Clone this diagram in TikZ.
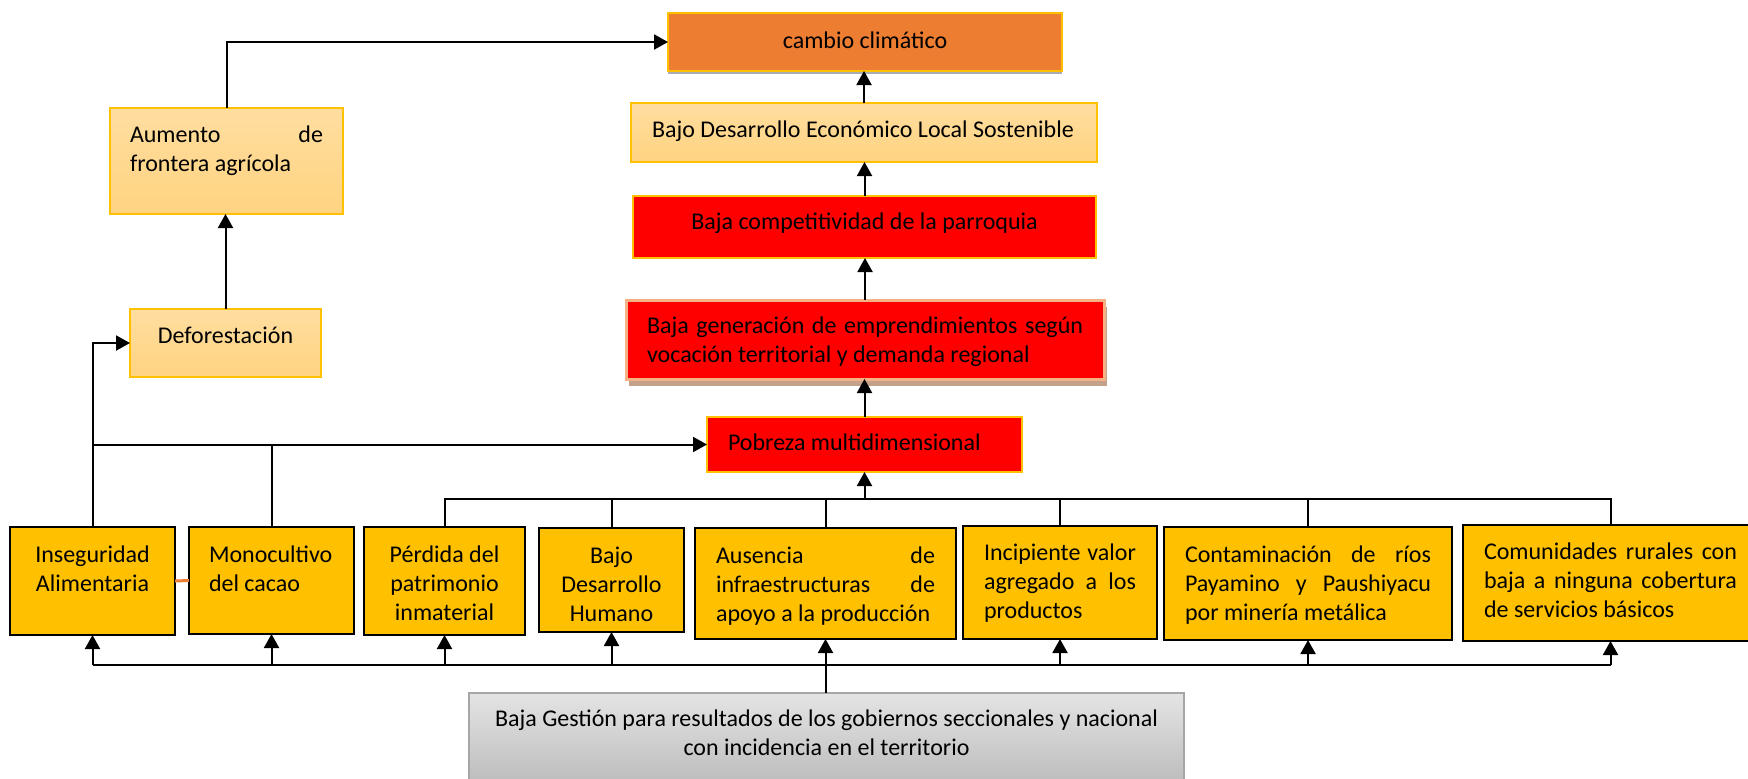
\documentclass[tikz,border=0pt]{standalone}
\usepackage{fontspec}
\setmainfont{Carlito}
\usetikzlibrary{arrows.meta,shadows,calc}
\definecolor{cOrange}{HTML}{ED7D31}
\definecolor{cGold}{HTML}{FFC000}
\definecolor{cLtTop}{HTML}{FFDEA0}
\definecolor{cLtBot}{HTML}{FFD380}
\definecolor{cRed}{HTML}{FF0000}
\definecolor{cSalmon}{HTML}{F4B183}
\definecolor{cBrown}{HTML}{C4A18B}
\definecolor{cShadow}{HTML}{A9ABB5}
\definecolor{cGrayTop}{HTML}{E4E4E4}
\definecolor{cGrayBot}{HTML}{BEBEBE}
\definecolor{cGrayLine}{HTML}{A6A6A6}
\begin{document}
\begin{tikzpicture}[x=0.5pt,y=-0.5pt,
  geo/.style n args={4}{text width=#1, inner xsep=#2, text height=#3, text depth=#4, inner ysep=0pt, anchor=north west, outer sep=0pt},
  base/.style={font=\fontsize{12pt}{14.5pt}\selectfont, rectangle},
  ybox/.style={base, fill=cGold, draw=black, line width=1.2pt},
  lbox/.style={base, top color=cLtTop, bottom color=cLtBot, draw=cGold, line width=0.8pt},
  rbox/.style={base, fill=cRed, draw=cGold, line width=0.8pt},
  conn/.style={line width=1pt, draw=black},
  arr/.style={conn, -{Triangle[width=7.5pt,length=7pt]}},
]
\useasboundingbox (0,0) rectangle (1748,778);

% top column
\node[base, fill=cOrange, draw=cGold, line width=0.8pt,
      drop shadow={shadow xshift=0pt, shadow yshift=-1.5pt, fill=cShadow, opacity=1},
      geo={197pt}{0pt}{17.5pt}{11.5pt}, align=flush center] (cc) at (668,13) {cambio~climático};
\node[lbox, geo={212pt}{10.5pt}{17pt}{12.5pt}, align=flush left] (bde) at (631,103) {Bajo~Desarrollo~Económico~Local~Sostenible};
\node[rbox, geo={231.5pt}{0pt}{16.5pt}{14.5pt}, align=flush center] (comp) at (633,196) {Baja~competitividad~de~la~parroquia};
\node[rbox, draw=cSalmon, line width=1.5pt,
      drop shadow={shadow xshift=1.5pt, shadow yshift=-3.5pt, fill=cBrown, opacity=1},
      geo={218pt}{10.5pt}{16.5pt}{23pt}, align=flush left] (gen) at (626,300)
      {Baja\hfill generación\hfill de\hfill emprendimientos\hfill según\\vocación~territorial~y~demanda~regional};
\node[rbox, geo={136.5pt}{10.5pt}{16.5pt}{11pt}, align=flush left] (pob) at (707,417) {Pobreza~multidimensional};

% left column
\node[lbox, geo={96.5pt}{10pt}{17pt}{36pt}, align=flush left] (aum) at (110,108) {Aumento\hfill de\\frontera~agrícola};
\node[lbox, geo={95.5pt}{0pt}{17pt}{17pt}, align=flush center] (def) at (130,309) {Deforestación};

% bottom row
\node[ybox, geo={82.5pt}{0pt}{17.5pt}{36.5pt}, align=flush center] (ins) at (10,527) {Inseguridad\\Alimentaria};
\node[ybox, geo={62.5pt}{10pt}{17.5pt}{36pt}, align=flush left] (mono) at (189,527) {Monocultivo\\del~cacao};
\node[ybox, geo={80.5pt}{0pt}{17.5pt}{36.5pt}, align=flush center] (per) at (364,527) {Pérdida~del\\patrimonio\\inmaterial};
\node[ybox, geo={72.5pt}{0pt}{17.5pt}{34.5pt}, align=flush center] (bdh) at (539,528) {Bajo\\Desarrollo\\Humano};
\node[ybox, geo={109.5pt}{10.5pt}{17.5pt}{38pt}, align=flush left] (aus) at (695,528) {Ausencia\hfill de\\infraestructuras\hfill de\\apoyo~a~la~producción};
\node[ybox, geo={76pt}{10.5pt}{17pt}{39.5pt}, align=flush left] (inc) at (963,526) {Incipiente\hfill valor\\agregado\hfill a\hfill los\\productos};
\node[ybox, geo={123pt}{10.5pt}{17.5pt}{39pt}, align=flush left] (con) at (1164,527) {Contaminación\hfill de\hfill ríos\\Payamino\hfill y\hfill Paushiyacu\\por~minería~metálica};
\node[ybox, geo={126.5pt}{10.5pt}{17pt}{41pt}, align=flush left] (com) at (1463,525) {Comunidades\hfill rurales\hfill con\\baja\hfill a\hfill ninguna\hfill cobertura\\de~servicios~básicos};

% bottom gray box
\node[base, top color=cGrayTop, bottom color=cGrayBot, draw=cGrayLine, line width=0.8pt,
      geo={332.5pt}{12.5pt}{16.5pt}{27pt}, align=flush center] (ges) at (469,693)
      {Baja~Gestión~para~resultados~de~los~gobiernos~seccionales~y~nacional\\con~incidencia~en~el~territorio};

% connectors
\coordinate (ub) at (0,499);
\coordinate (lb) at (0,665);
\draw[arr] (aum.north) |- (cc.west);
\draw[arr] (def.north) -- (def.north |- aum.south);
\draw[arr] (bde.north) -- (bde.north |- cc.south);
\draw[arr] (comp.north) -- (comp.north |- bde.south);
\draw[arr] (gen.north) -- (gen.north |- comp.south);
\draw[arr] (pob.north) -- (pob.north |- gen.south);
\draw[arr] (ins.north) |- (def.west);
\draw[arr] (ins.north |- pob.west) -- (pob.west);
\draw[conn] (mono.north) -- (mono.north |- pob.west);
\draw[conn] (per.north) -- (per.north |- ub) -| (com.north);
\foreach \n in {bdh,aus,inc,con} \draw[conn] (\n.north) -- (\n.north |- ub);
\draw[arr] (pob.south |- ub) -- (pob.south);
\draw[conn] (ins.south |- lb) -- (com.south |- lb);
\foreach \n in {ins,mono,per,bdh,inc,con,com} \draw[arr] (\n.south |- lb) -- (\n.south);
\draw[arr] (ges.north -| aus.south) -- (aus.south);
\draw[cOrange, line width=1.5pt] (ins.east) -- (mono.west);
\end{tikzpicture}
\end{document}
